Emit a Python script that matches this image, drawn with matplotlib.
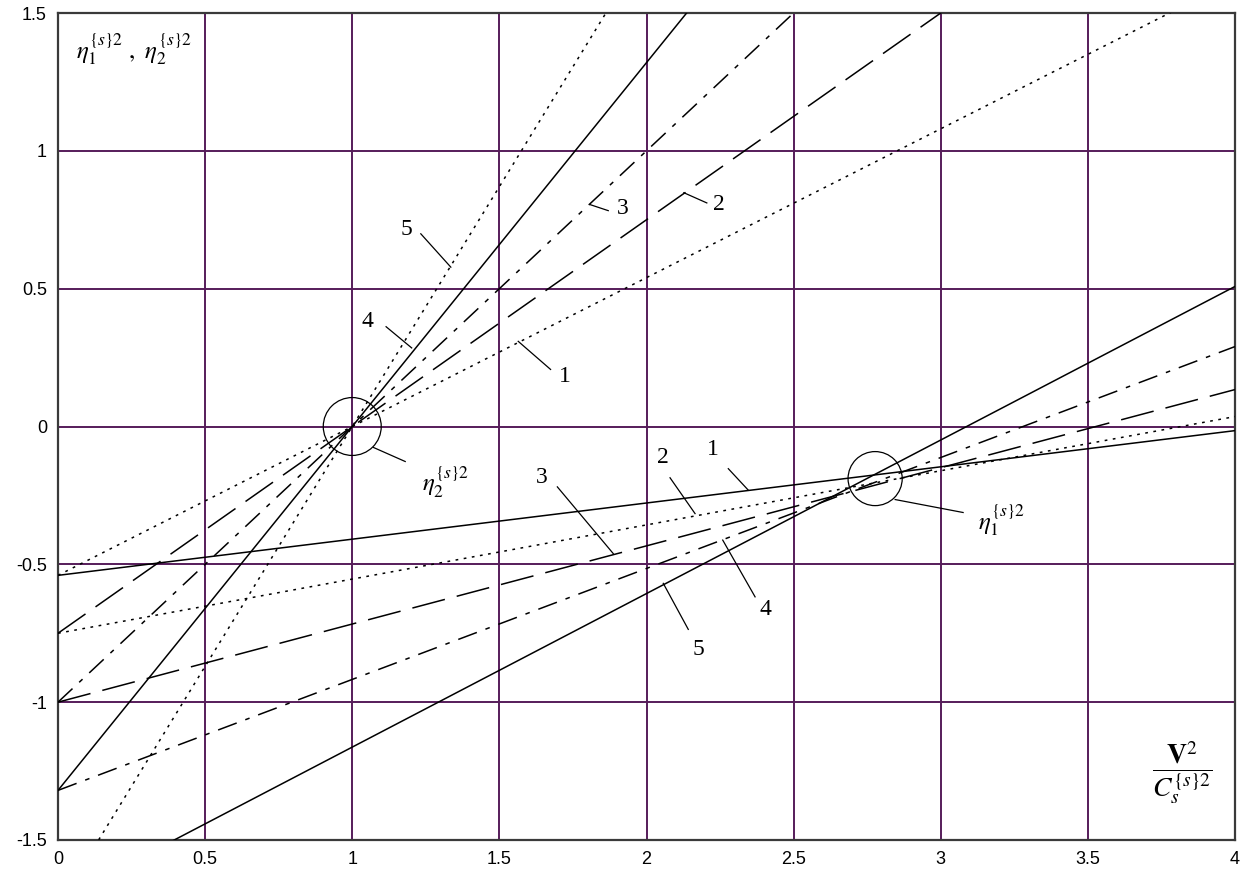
import numpy as np
import matplotlib
matplotlib.use('Agg')
import matplotlib.pyplot as plt
from matplotlib.patches import Ellipse

plt.rcParams['axes.unicode_minus'] = False
plt.rcParams['mathtext.fontset'] = 'stix'

# abscissa V^2 / C_s^2 at the two ends of every straight line
x_ends = [0, 4]

# eta_1^2 lines (curves 1..5), value at x=0 and at x=4
eta1_start = [-0.54, -0.75, -1.0, -1.32, -1.72]
eta1_end = [-0.015, 0.036, 0.134, 0.29, 0.508]

# eta_2^2 lines (curves 1..5), all pass through (1, 0)
eta2_start = [-0.54, -0.75, -1.0, -1.32, -1.74]
eta2_end = [1.62, 2.25, 3.0, 3.96, 5.22]

curve_names = ['1', '2', '3', '4', '5']
x_ticks = [0, 0.5, 1, 1.5, 2, 2.5, 3, 3.5, 4]
y_ticks = [-1.5, -1, -0.5, 0, 0.5, 1, 1.5]

# line styles (matplotlib dash tuples)
solid = '-'
dotted = (0, (1.8, 3.6))
longdash = (0, (22, 8))
dashdot = (0, (13, 6, 3, 6))
eta1_styles = [solid, dotted, longdash, dashdot, solid]
eta2_styles = [dotted, longdash, dashdot, solid, dotted]

# label positions: text, leader start (on line), leader end
eta2_labels = [((1.723, 0.182), (1.564, 0.309), (1.674, 0.207)),
               ((2.246, 0.806), (2.127, 0.848), (2.205, 0.811)),
               ((1.920, 0.789), (1.808, 0.805), (1.870, 0.783)),
               ((1.052, 0.382), (1.202, 0.285), (1.115, 0.362)),
               ((1.183, 0.715), (1.335, 0.578), (1.233, 0.699))]
eta1_labels = [((2.227, -0.085), (2.346, -0.231), (2.278, -0.153)),
               ((2.056, -0.112), (2.165, -0.316), (2.080, -0.186)),
               ((1.643, -0.186), (1.887, -0.461), (1.697, -0.219)),
               ((2.404, -0.664), (2.259, -0.412), (2.369, -0.618)),
               ((2.175, -0.809), (2.057, -0.569), (2.142, -0.736))]

grid_color = '#561c5a'

fig = plt.figure(figsize=(12.45, 8.74), dpi=100)
ax = fig.add_axes([58 / 1245, 1 - 840 / 874, (1235 - 58) / 1245, (840 - 13) / 874])

for i in range(5):
    ax.plot(x_ends, [eta1_start[i], eta1_end[i]], color='black', lw=1.1,
            linestyle=eta1_styles[i], zorder=3)
    ax.plot(x_ends, [eta2_start[i], eta2_end[i]], color='black', lw=1.1,
            linestyle=eta2_styles[i], zorder=3)

for labels in [eta1_labels, eta2_labels]:
    for name, (txt, p0, p1) in zip(curve_names, labels):
        ax.plot([p0[0], p1[0]], [p0[1], p1[1]], color='black', lw=0.9, zorder=4)
        ax.text(txt[0], txt[1], name, ha='center', va='center', fontsize=17,
                family='Liberation Serif', zorder=5)

# circles marking the crossing points
ax.add_patch(Ellipse((1.0, 0.0), 0.197, 0.210, fill=False, lw=0.9,
                     color='black', zorder=4))
ax.add_patch(Ellipse((2.777, -0.189), 0.184, 0.196, fill=False, lw=0.9,
                     color='black', zorder=4))
ax.plot([1.072, 1.18], [-0.076, -0.127], color='black', lw=0.9)
ax.plot([2.845, 3.076], [-0.265, -0.312], color='black', lw=0.9)
ax.text(1.237, -0.203, r'$\eta_2^{\{s\}2}$', ha='left', va='center', fontsize=18)
ax.text(3.127, -0.341, r'$\eta_1^{\{s\}2}$', ha='left', va='center', fontsize=18)

# axis titles inside the frame
ax.text(0.258, 1.367, r'$\eta_1^{\{s\}2}\ ,\ \eta_2^{\{s\}2}$', ha='center',
        va='center', fontsize=18)
ax.text(3.82, -1.255, r'$\dfrac{\mathbf{V}^2}{C_s^{\{s\}2}}$', ha='center',
        va='center', fontsize=20)

ax.set_xlim(0, 4)
ax.set_ylim(-1.5, 1.5)
ax.set_xticks(x_ticks)
ax.set_yticks(y_ticks)
ax.set_xticklabels(['0', '0.5', '1', '1.5', '2', '2.5', '3', '3.5', '4'])
ax.set_yticklabels(['-1.5', '-1', '-0.5', '0', '0.5', '1', '1.5'])
ax.tick_params(length=0, labelsize=13, pad=8)
for lab in ax.get_xticklabels() + ax.get_yticklabels():
    lab.set_family('Liberation Sans')
ax.grid(True, color=grid_color, lw=1.4, zorder=1)
ax.set_axisbelow(True)
for sp in ax.spines.values():
    sp.set_color('#3a3a3a')
    sp.set_linewidth(1.6)

fig.savefig('out.png', dpi=100)
